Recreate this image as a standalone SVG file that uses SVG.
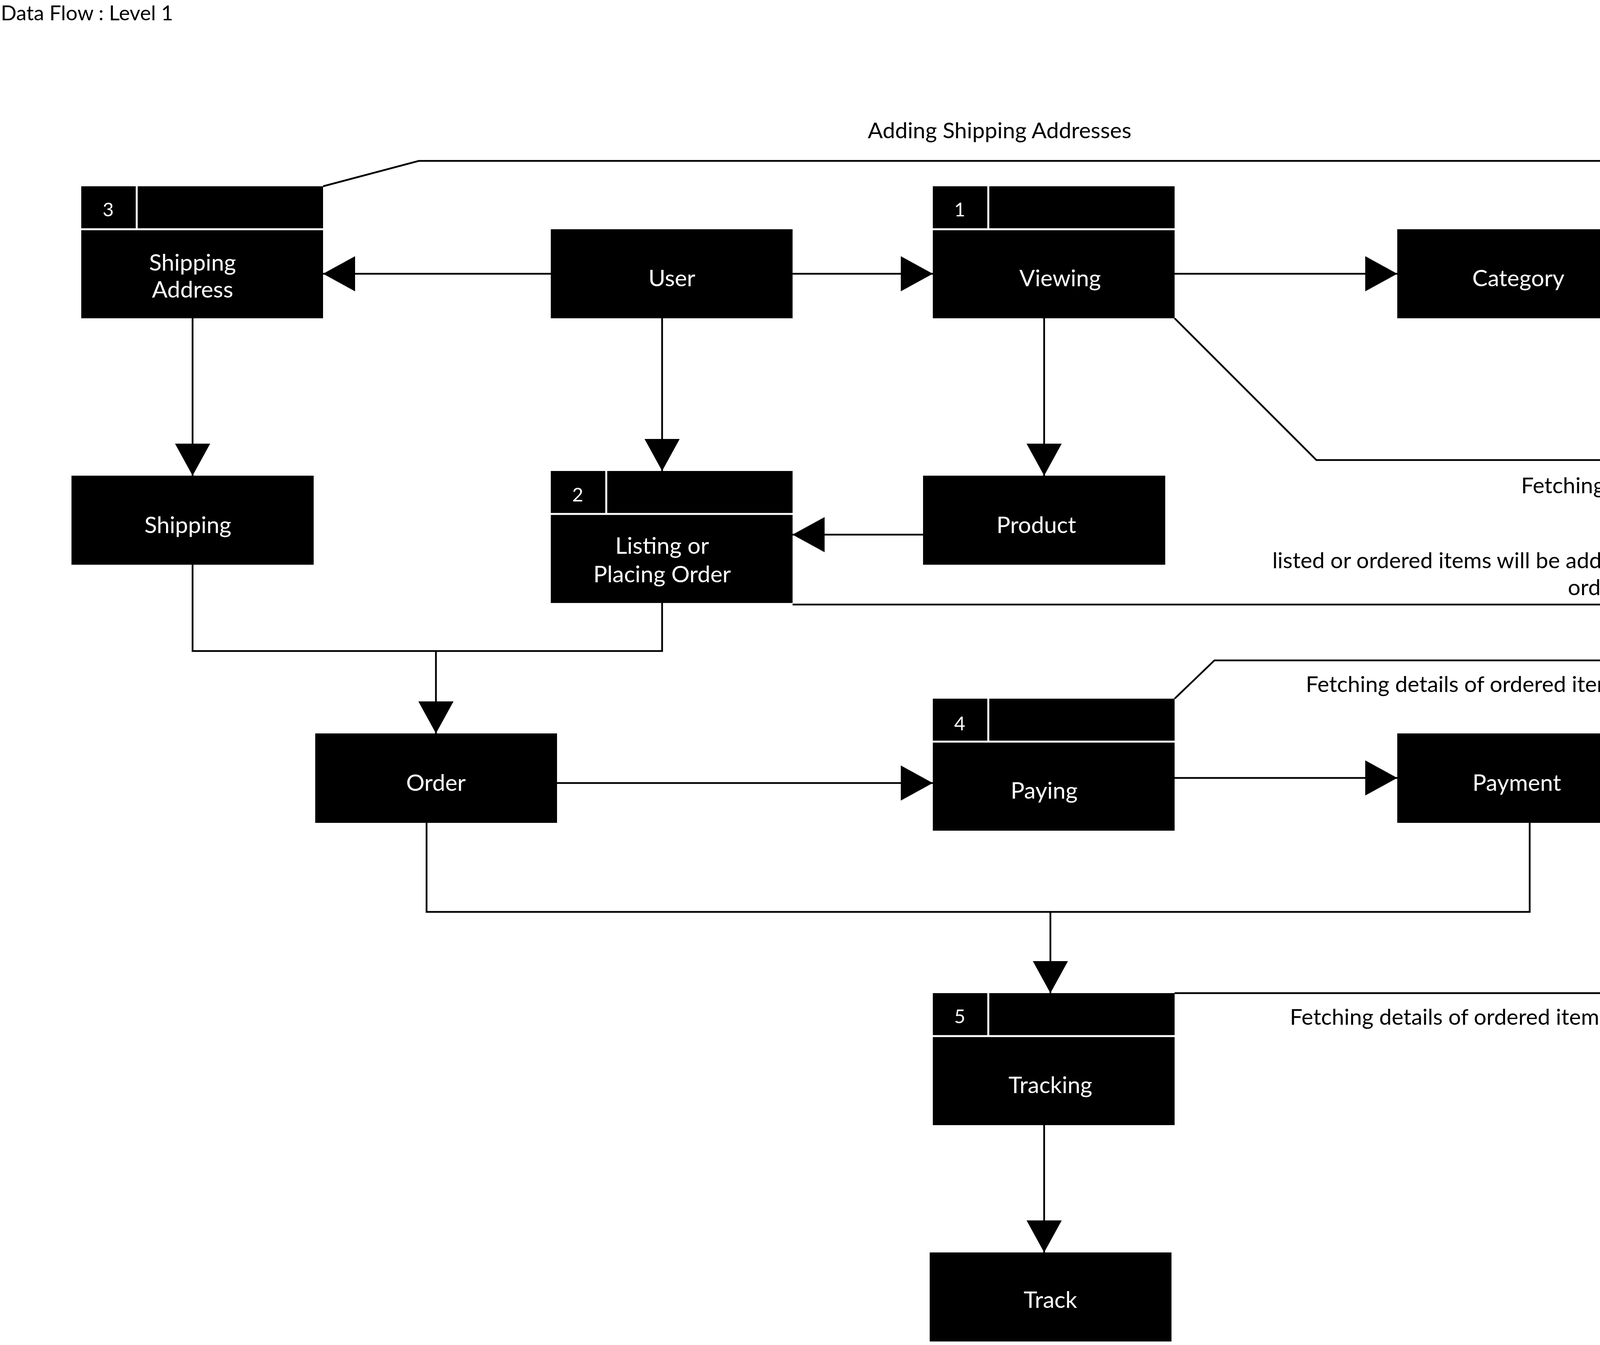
<svg xmlns="http://www.w3.org/2000/svg" width="6389" height="3444" viewBox="0 0 6389 3444">
<style>
.b{fill:#000}
.w{stroke:#fff;stroke-width:5}
.t{font-family:Lato,"Liberation Sans",sans-serif;font-size:59px;fill:#fff;text-anchor:middle}
.n{font-family:Lato,"Liberation Sans",sans-serif;font-size:49px;fill:#fff;text-anchor:middle}
.l{font-family:Lato,"Liberation Sans",sans-serif;font-size:57px;fill:#000;text-anchor:middle}
.c{fill:none;stroke:#000;stroke-width:4.5}
</style>
<defs>
<marker id="a" markerUnits="userSpaceOnUse" markerWidth="84" markerHeight="92" refX="82" refY="45" orient="auto"><path d="M0,0L82,45L0,90Z" fill="#000"/></marker>
</defs>
<rect width="6389" height="3444" fill="#fff"/>
<text x="2" y="52" font-family="Lato,'Liberation Sans',sans-serif" font-size="53" fill="#000">Data Flow : Level 1</text>
<g id="connectors">
<path class="c" d="M827,477L1072,412H4494V994H5289" marker-end="url(#a)"/>
<path class="c" d="M1410,701H827" marker-end="url(#a)"/>
<path class="c" d="M2029,701H2388" marker-end="url(#a)"/>
<path class="c" d="M3007,701H3577" marker-end="url(#a)"/>
<path class="c" d="M2673,815V1218" marker-end="url(#a)"/>
<path class="c" d="M493,815V1218" marker-end="url(#a)"/>
<path class="c" d="M1695,815V1206" marker-end="url(#a)"/>
<path class="c" d="M2363,1369H2029" marker-end="url(#a)"/>
<path class="c" d="M3007,815L3370,1178H5289"/>
<path class="c" d="M2029,1548H5289"/>
<path class="c" d="M493,1446V1667H1695V1544"/>
<path class="c" d="M1116,1667V1878" marker-end="url(#a)"/>
<path class="c" d="M3007,1789L3109,1691H5289"/>
<path class="c" d="M1426,2005H2388" marker-end="url(#a)"/>
<path class="c" d="M3007,1992H3577" marker-end="url(#a)"/>
<path class="c" d="M1092,2107V2335H3916V2107"/>
<path class="c" d="M2689,2335V2543" marker-end="url(#a)"/>
<path class="c" d="M3007,2543H5048V1768H5289"/>
<path class="c" d="M2673,2881V3207" marker-end="url(#a)"/>
<text class="l" x="2559" y="354">Adding Shipping Addresses</text>
<text class="l" x="4307" y="1263">Fetching categories and products</text>
<text class="l" x="4221" y="1455">listed or ordered items will be added to database which will be fetched during</text>
<text class="l" x="4221" y="1524">ordering process</text>
<text class="l" x="4103" y="1772">Fetching details of ordered items and storing payment details</text>
<text class="l" x="4079" y="2624">Fetching details of ordered items and details of shipping status</text>
</g>
<g id="shipping-address"><rect class="b" x="208" y="477" width="619" height="338"/><path class="w" d="M208,587H827M350,477V587"/><text class="n" x="277" y="554">3</text><text class="t" x="493" y="693">Shipping</text><text class="t" x="493" y="762">Address</text></g>
<g id="user"><rect class="b" x="1410" y="587" width="619" height="228"/><text class="t" x="1720" y="733">User</text></g>
<g id="viewing"><rect class="b" x="2388" y="477" width="619" height="338"/><path class="w" d="M2388,587H3007M2530,477V587"/><text class="n" x="2457" y="554">1</text><text class="t" x="2714" y="733">Viewing</text></g>
<g id="category"><rect class="b" x="3577" y="587" width="620" height="228"/><text class="t" x="3887" y="733">Category</text></g>
<g id="shipping"><rect class="b" x="183" y="1218" width="620" height="228"/><text class="t" x="481" y="1365">Shipping</text></g>
<g id="listing"><rect class="b" x="1410" y="1206" width="619" height="338"/><path class="w" d="M1410,1316H2029M1552,1206V1316"/><text class="n" x="1479" y="1284">2</text><text class="t" x="1695" y="1418">Listing or</text><text class="t" x="1695" y="1491">Placing Order</text></g>
<g id="product"><rect class="b" x="2363" y="1218" width="620" height="228"/><text class="t" x="2653" y="1365">Product</text></g>
<g id="order"><rect class="b" x="807" y="1878" width="619" height="229"/><text class="t" x="1116" y="2025">Order</text></g>
<g id="paying"><rect class="b" x="2388" y="1789" width="619" height="338"/><path class="w" d="M2388,1899H3007M2530,1789V1899"/><text class="n" x="2457" y="1870">4</text><text class="t" x="2673" y="2045">Paying</text></g>
<g id="payment"><rect class="b" x="3577" y="1878" width="620" height="229"/><text class="t" x="3883" y="2025">Payment</text></g>
<g id="tracking"><rect class="b" x="2388" y="2543" width="619" height="338"/><path class="w" d="M2388,2653H3007M2530,2543V2653"/><text class="n" x="2457" y="2620">5</text><text class="t" x="2689" y="2799">Tracking</text></g>
<g id="track"><rect class="b" x="2380" y="3207" width="619" height="228"/><text class="t" x="2689" y="3349">Track</text></g>
<g id="datastore"><rect class="b" x="5289" y="823" width="1092" height="1023"/><path class="w" d="M5607,823V1846"/><text class="t" x="5423" y="1353" style="font-size:81px">D</text><text class="t" x="5815" y="1357" style="font-size:90px">Famozi</text></g>
</svg>
